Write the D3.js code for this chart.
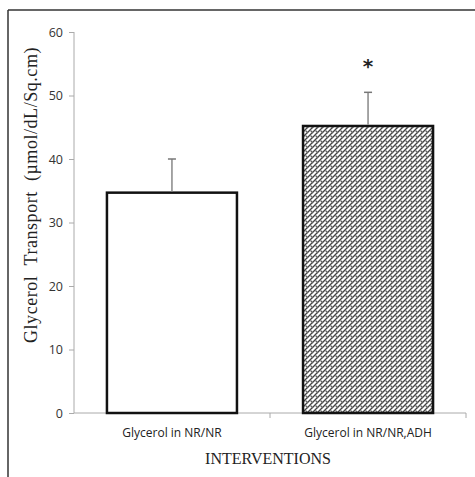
<!DOCTYPE html>
<html>
<head>
<meta charset="utf-8">
<script src="https://cdn.jsdelivr.net/npm/d3@7"></script>
<style>
  html, body { margin: 0; padding: 0; background: #fff; }
  svg { display: block; }
</style>
</head>
<body>
<script>
// Data
const categories = ["Glycerol in NR/NR", "Glycerol in NR/NR,ADH"];
const means = [34.7, 45.2];
const errors = [5.3, 5.3];
const significance = ["", "*"];
const yTicks = [0, 10, 20, 30, 40, 50, 60];
const yLabel = "Glycerol\u00a0\u00a0Transport\u00a0\u00a0(\u00b5mol/dL/Sq.cm)";
const xLabel = "INTERVENTIONS";

const W = 475, H = 477;
const svg = d3.select("body").append("svg").attr("width", W).attr("height", H);

// pattern
const defs = svg.append("defs");
const pat = defs.append("pattern").attr("id", "hatch").attr("patternUnits", "userSpaceOnUse")
  .attr("width", 5).attr("height", 5);
pat.append("rect").attr("width", 5).attr("height", 5).attr("fill", "#fff");
pat.append("path").attr("d", "M-1,6 L6,-1 M-1,1 L1,-1 M4,6 L6,4")
  .attr("stroke", "#444").attr("stroke-width", 1.3).attr("fill", "none");
pat.append("path").attr("d", "M0.5,0.5 L3,3")
  .attr("stroke", "#666").attr("stroke-width", 1.2).attr("fill", "none");

// frame
svg.append("line").attr("x1", 8).attr("x2", W).attr("y1", 10).attr("y2", 10)
  .attr("stroke", "#333").attr("stroke-width", 1.5);
svg.append("line").attr("x1", 8).attr("x2", 8).attr("y1", 10).attr("y2", H)
  .attr("stroke", "#333").attr("stroke-width", 1.5);

const x0 = 74, x1 = 466, yTop = 32, yBot = 413;
const x = d3.scaleBand().domain(categories).range([x0, x1]).paddingInner(0.337).paddingOuter(0.168);
const y = d3.scaleLinear().domain([0, 60]).range([yBot, yTop]);

// y axis
const yAxis = d3.axisLeft(y).tickValues(yTicks).tickSize(5).tickPadding(6);
const gy = svg.append("g").attr("transform", `translate(${x0},0)`).call(yAxis);
gy.select(".domain").attr("stroke", "#aaa").attr("d", `M0,${yTop}V${yBot}`);
gy.selectAll(".tick line").attr("stroke", "#aaa");
gy.selectAll(".tick text").attr("font-family", "'Open Sans', 'Liberation Sans', sans-serif")
  .attr("font-size", 12.5).attr("fill", "#333");

// x axis line with ticks at band boundaries
const bounds = [x0, (x0 + x1) / 2, x1];
svg.append("line").attr("x1", x0).attr("x2", x1).attr("y1", yBot).attr("y2", yBot)
  .attr("stroke", "#aaa").attr("stroke-width", 1);
svg.selectAll("line.xt").data(bounds.slice(1)).join("line").attr("class", "xt")
  .attr("x1", d => d).attr("x2", d => d).attr("y1", yBot).attr("y2", yBot + 5)
  .attr("stroke", "#aaa");

// bars
svg.selectAll("rect.bar").data(categories).join("rect").attr("class", "bar")
  .attr("x", d => x(d)).attr("width", x.bandwidth())
  .attr("y", (d, i) => y(means[i])).attr("height", (d, i) => yBot - y(means[i]))
  .attr("fill", (d, i) => i === 0 ? "#fff" : "url(#hatch)")
  .attr("stroke", "#111").attr("stroke-width", 2.5);

// error bars
const cx = d => x(d) + x.bandwidth() / 2;
svg.selectAll("line.err").data(categories).join("line").attr("class", "err")
  .attr("x1", cx).attr("x2", cx)
  .attr("y1", (d, i) => y(means[i]) - 1.2).attr("y2", (d, i) => y(means[i] + errors[i]))
  .attr("stroke", "#888").attr("stroke-width", 1.5);
svg.selectAll("line.cap").data(categories).join("line").attr("class", "cap")
  .attr("x1", d => cx(d) - 4).attr("x2", d => cx(d) + 4)
  .attr("y1", (d, i) => y(means[i] + errors[i])).attr("y2", (d, i) => y(means[i] + errors[i]))
  .attr("stroke", "#777").attr("stroke-width", 1.5);

// significance
svg.selectAll("text.sig").data(categories).join("text").attr("class", "sig")
  .attr("x", cx).attr("y", 73)
  .attr("text-anchor", "middle").attr("font-family", "'DejaVu Sans', sans-serif")
  .attr("font-size", 20).attr("font-weight", "bold").attr("fill", "#222")
  .text((d, i) => significance[i]);

// category labels
svg.selectAll("text.cat").data(categories).join("text").attr("class", "cat")
  .attr("x", cx).attr("y", 437).attr("text-anchor", "middle")
  .attr("font-family", "'Open Sans', 'Liberation Sans', sans-serif")
  .attr("font-size", 12).attr("fill", "#222")
  .text(d => d);

// x label
svg.append("text").attr("x", 268).attr("y", 464).attr("text-anchor", "middle")
  .attr("font-family", "'Liberation Serif', serif").attr("font-size", 16).attr("fill", "#222")
  .text(xLabel);

// y label
svg.append("text").attr("transform", "translate(37,195) rotate(-90)")
  .attr("text-anchor", "middle")
  .attr("font-family", "'Liberation Serif', serif").attr("font-size", 18).attr("fill", "#222")
  .attr("letter-spacing", 0.55)
  .text(yLabel);
</script>
</body>
</html>
